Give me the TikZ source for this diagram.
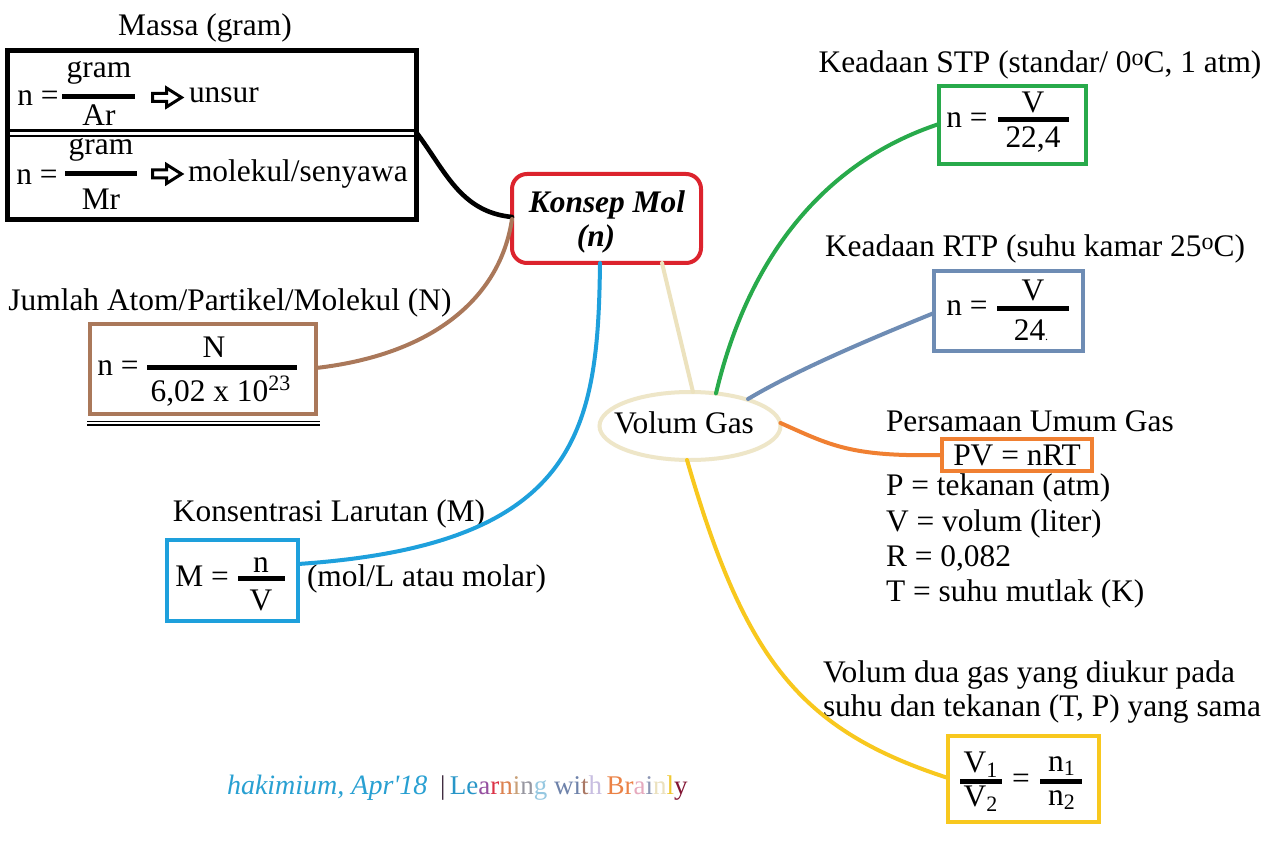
\documentclass[tikz,border=0pt]{standalone}
\usepackage{fontspec}
\setmainfont{Liberation Serif}
\newfontfamily\footfont{Liberation Serif}
\usetikzlibrary{shapes.geometric,fit,calc}
\newcommand\fs{\fontsize{15.7pt}{18pt}\selectfont}
\newcommand\dego{\raisebox{.55ex}{\fontsize{12pt}{12pt}\selectfont o}}
\definecolor{cred}{RGB}{220,35,45}
\definecolor{cbrown}{RGB}{170,120,90}
\definecolor{cblue}{RGB}{30,160,220}
\definecolor{ctan}{RGB}{236,226,190}
\definecolor{cbeige}{RGB}{238,230,200}
\definecolor{cgreen}{RGB}{40,170,75}
\definecolor{cslate}{RGB}{110,140,180}
\definecolor{corange}{RGB}{240,128,50}
\definecolor{cyellow}{RGB}{248,200,30}
\definecolor{cfoot}{RGB}{40,160,210}
\newcommand\lc[2]{\textcolor[RGB]{#1}{#2}}
\begin{document}
\begin{tikzpicture}[x=0.5pt,y=-0.5pt,
  every node/.style={font=\fs, inner sep=0pt, outer sep=0pt},
  box/.style={draw, line width=2pt, inner sep=0pt},
  fbar/.style={line width=2.5pt},
  conn/.style={line width=2pt, line cap=round},
  openarr/.pic={\draw[line width=1.5pt, line join=miter] (-14,-4) -- (0,-4) -- (0,-9.5) -- (15,0) -- (0,9.5) -- (0,4) -- (-14,4) -- cycle;}]
\path[fill=white] (0,0) rectangle (1272,844);
\useasboundingbox (0,0) rectangle (1272,844);

% ---------- Massa ----------
\node[anchor=base] (massaT) at (205,36) {Massa (gram)};
\node[box, line width=2.5pt, fit={(7,51) (416,220)}] (massa) {};
\draw[line width=1.5pt] (massa.west |- 0,131) -- (massa.east |- 0,131);
\draw[line width=1pt] (massa.west |- 0,136.5) -- (massa.east |- 0,136.5);
\node (na) at (38,98) {n =};
\node (ga) at (99,73) {gram};
\draw[fbar] (62,97) -- (135,97);
\node (ar) at (99,115) {Ar};
\pic at (166.5,97.5) {openarr};
\node[anchor=west] (unsur) at (189,95) {unsur};
\node (nb) at (37,177) {n =};
\node (gb) at (101,150) {gram};
\draw[fbar] (65,174) -- (137,174);
\node (mr) at (101,199) {Mr};
\pic at (166.5,174) {openarr};
\node[anchor=west] (molek) at (188,174) {molekul/senyawa};

% ---------- Konsep Mol ----------
\node[box, draw=cred, rounded corners=7.5pt, fit={(512,174) (701,263)}] (konsep) {};
\node[anchor=base, font=\fs\bfseries\itshape] (konT) at (607,212.5) {Konsep Mol};
\node[anchor=base, font=\fs\bfseries\itshape] (konN) at (596,247) {(n)};

% ---------- Jumlah ----------
\node[anchor=base] (jumT) at (230,311) {Jumlah Atom/Partikel/Molekul (N)};
\node[box, draw=cbrown, fit={(90,324) (316,414)}] (jumlah) {};
\draw[line width=0.8pt] (87,421.5) -- (320,421.5);
\draw[line width=0.8pt] (87,425) -- (320,425);
\node (nc) at (118,368) {n =};
\node (bigN) at (214,347) {N};
\draw[fbar] (147,367) -- (297,367);
\node (avog) at (221,391) {6,02 x 10\textsuperscript{23}};

% ---------- Konsentrasi ----------
\node[anchor=base] (konsT) at (329,521) {Konsentrasi Larutan (M)};
\node[box, draw=cblue, fit={(167,540) (298,621)}] (konsen) {};
\node (mm) at (202,576) {M =};
\node (mn) at (261,565) {n};
\draw[fbar] (238,578) -- (285,578);
\node (mv) at (261,600) {V};
\node[anchor=base west] (molar) at (307,586) {(mol/L atau molar)};

% ---------- Volum Gas ----------
\node[ellipse, draw=cbeige, line width=2pt, minimum width=90.5pt, minimum height=34pt] (volum) at (690,426) {};
\node[anchor=base] (volT) at (684,433) {Volum Gas};

% ---------- STP ----------
\node[anchor=base] (stpT) at (1040,73) {Keadaan STP (standar/ 0\dego C, 1 atm)};
\node[box, draw=cgreen, fit={(939,86) (1086,164)}] (stp) {};
\node (nd) at (967,120) {n =};
\node (sv) at (1033,102) {V};
\draw[fbar] (998,120) -- (1069,120);
\node (s224) at (1033,140) {22,4};

% ---------- RTP ----------
\node[anchor=base] (rtpT) at (1035,257) {Keadaan RTP (suhu kamar 25\dego C)};
\node[box, draw=cslate, fit={(934,271) (1083,351)}] (rtp) {};
\node (ne) at (967,308) {n =};
\node (rv) at (1033,290) {V};
\draw[fbar] (997,309) -- (1069,309);
\node (r24) at (1031,330) {24{\fontsize{6pt}{6pt}\selectfont.}};

% ---------- Persamaan Umum Gas ----------
\node[anchor=base west] (pugT) at (886,431) {Persamaan Umum Gas};
\node[box, draw=corange, fit={(942,439) (1092,471)}] (pv) {};
\node (pvT) at (1017,455) {PV = nRT};
\node[anchor=base west] (l1) at (886,495) {P = tekanan (atm)};
\node[anchor=base west] (l2) at (886,531) {V = volum (liter)};
\node[anchor=base west] (l3) at (886,566) {R = 0,082};
\node[anchor=base west] (l4) at (886,601) {T = suhu mutlak (K)};

% ---------- Volum dua gas ----------
\node[anchor=base west] (vd1) at (823,682) {Volum dua gas yang diukur pada};
\node[anchor=base west] (vd2) at (823,716) {suhu dan tekanan (T, P) yang sama};
\node[box, draw=cyellow, fit={(948,736) (1099,822)}] (yel) {};
\node (v1) at (981,765) {V\textsubscript{1}};
\draw[fbar] (960,781) -- (1002,781);
\node (v2) at (981,799) {V\textsubscript{2}};
\node (eq) at (1021,781) {=};
\node (n1) at (1062,766) {n\textsubscript{1}};
\draw[fbar] (1040,781) -- (1082,781);
\node (n2) at (1062,800) {n\textsubscript{2}};

% ---------- connectors ----------
\draw[conn, black, line width=2.3pt] (massa.east |- 0,132) .. controls (445,170) and (460,212) .. (konsep.west |- 0,217);
\draw[conn, cbrown] (jumlah.east |- 0,368) .. controls (430,355) and (500,300) .. (konsep.west |- 0,219);
\draw[conn, cblue] (konsep.south -| 600,0) .. controls (598,430) and (580,545) .. (konsen.east |- 0,564);
\draw[conn, ctan] (konsep.south -| 662,0) -- ([xshift=1.5pt]volum.north);
\draw[conn, cgreen] ([xshift=13pt,yshift=-0.7pt]volum.north) .. controls (750,250) and (830,160) .. (stp.west |- 0,124);
\draw[conn, cslate] ([xshift=29pt,yshift=-3.5pt]volum.north) .. controls (800,368) and (880,335) .. (rtp.west |- 0,313);
\draw[conn, corange] ([yshift=1.5pt]volum.east) .. controls (830,445) and (850,457) .. (pv.west |- 0,455);
\draw[conn, cyellow] ([xshift=-1.5pt]volum.south) .. controls (745,660) and (800,730) .. (yel.west |- 0,778);

% ---------- footer ----------
\node[anchor=base west, font=\footfont\fontsize{14pt}{16pt}\selectfont\itshape, text=cfoot] (sig) at (227,794) {hakimium, Apr'18};
\node[anchor=base west, font=\fontsize{13.5pt}{16pt}\selectfont] (brand) at (440,794) {\lc{60,40,60}{|}\,\lc{40,150,200}{Le}\lc{150,80,160}{a}\lc{220,50,70}{r}\lc{220,130,80}{n}\lc{200,160,120}{i}\lc{150,150,160}{n}\lc{150,200,225}{g} \lc{110,130,170}{wi}\lc{170,120,100}{t}\lc{200,190,225}{h}\,\lc{235,130,70}{Br}\lc{230,170,190}{a}\lc{140,150,180}{i}\lc{235,225,190}{n}\lc{240,200,50}{l}\lc{130,20,50}{y}};
\end{tikzpicture}
\end{document}
